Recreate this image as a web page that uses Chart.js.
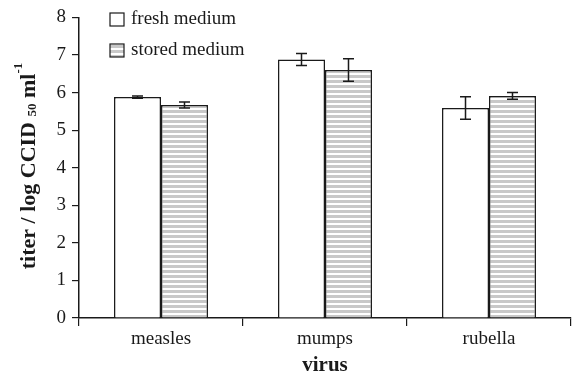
<!DOCTYPE html>
<html lang="en">
<head>
<meta charset="UTF-8" />
<title>Titer by virus</title>
<script src="https://cdn.jsdelivr.net/npm/chart.js@4"></script>
<style>
  html, body { margin: 0; padding: 0; background: #fff; }
</style>
</head>
<body>
<canvas id="grafico" width="575" height="383"></canvas>
<script>
  // values
  var viruses = ["measles", "mumps", "rubella"];
  var fresh = [5.88, 6.88, 5.59];
  var freshErr = [0.03, 0.16, 0.3];
  var stored = [5.67, 6.6, 5.91];
  var storedErr = [0.08, 0.3, 0.09];
  var legendNames = ["fresh medium", "stored medium"];

  var serif = "'Liberation Serif', 'Times New Roman', serif";
  var ink = "#1a1a1a";

  // grey horizontal stripes for the stored medium bars
  function stripes() {
    var c = document.createElement("canvas");
    c.width = 4;
    c.height = 5;
    var g = c.getContext("2d");
    g.fillStyle = "#ffffff";
    g.fillRect(0, 0, 4, 5);
    g.fillStyle = "#c8c8c8";
    g.fillRect(0, 0, 4, 3);
    return g.createPattern(c, "repeat");
  }
  var striped = stripes();

  var errores = [freshErr, storedErr];

  var errorBars = {
    id: "errorBars",
    afterDatasetsDraw: function (chart) {
      var ctx = chart.ctx;
      var y = chart.scales.y;
      ctx.save();
      ctx.strokeStyle = ink;
      ctx.lineWidth = 1.5;
      chart.data.datasets.forEach(function (ds, i) {
        var meta = chart.getDatasetMeta(i);
        meta.data.forEach(function (bar, j) {
          var v = ds.data[j];
          var e = errores[i][j];
          var top = y.getPixelForValue(v + e);
          var bot = y.getPixelForValue(v - e);
          ctx.beginPath();
          ctx.moveTo(bar.x, top);
          ctx.lineTo(bar.x, bot);
          ctx.moveTo(bar.x - 5.5, top);
          ctx.lineTo(bar.x + 5.5, top);
          ctx.moveTo(bar.x - 5.5, bot);
          ctx.lineTo(bar.x + 5.5, bot);
          ctx.stroke();
        });
      });
      ctx.restore();
    }
  };

  // legend inside the plot, top left
  var legendaInterna = {
    id: "legendaInterna",
    afterDraw: function (chart) {
      var ctx = chart.ctx;
      var fills = ["#ffffff", striped];
      ctx.save();
      ctx.font = "19px " + serif;
      ctx.textBaseline = "middle";
      legendNames.forEach(function (nome, i) {
        var by = 13 + i * 31;
        ctx.fillStyle = fills[i];
        ctx.fillRect(110, by, 14, 13);
        ctx.strokeStyle = ink;
        ctx.lineWidth = 1.2;
        ctx.strokeRect(110, by, 14, 13);
        ctx.fillStyle = ink;
        ctx.fillText(nome, 131, by + 6.5);
      });
      ctx.restore();
    }
  };

  // y title with subscript 50 and superscript -1
  var tituloY = {
    id: "tituloY",
    afterDraw: function (chart) {
      var ctx = chart.ctx;
      var big = "bold 22px " + serif;
      var small = "bold 13px " + serif;
      var parts = [
        { t: "titer / log CCID ", f: big, dy: 0 },
        { t: "50", f: small, dy: 4 },
        { t: " ml", f: big, dy: 0 },
        { t: "-1", f: small, dy: -10 }
      ];
      ctx.save();
      var total = 0;
      parts.forEach(function (p) {
        ctx.font = p.f;
        p.w = ctx.measureText(p.t).width;
        total += p.w;
      });
      ctx.translate(29, 166);
      ctx.rotate(-Math.PI / 2);
      ctx.fillStyle = ink;
      ctx.textBaseline = "middle";
      var x = -total / 2;
      parts.forEach(function (p) {
        ctx.font = p.f;
        ctx.fillText(p.t, x, p.dy);
        x += p.w;
      });
      ctx.restore();
    }
  };

  var config = {
    type: "bar",
    data: {
      labels: viruses,
      datasets: [
        {
          label: legendNames[0],
          data: fresh,
          backgroundColor: "#ffffff",
          borderColor: ink,
          borderWidth: 1.5
        },
        {
          label: legendNames[1],
          data: stored,
          backgroundColor: striped,
          borderColor: ink,
          borderWidth: 1.5
        }
      ]
    },
    options: {
      responsive: false,
      animation: false,
      categoryPercentage: 0.573,
      barPercentage: 1,
      layout: { padding: { top: 14, right: 4, left: 0, bottom: 0 } },
      plugins: {
        legend: { display: false },
        tooltip: { enabled: false }
      },
      scales: {
        x: {
          afterFit: function (s) { s.height = 65; },
          grid: { drawOnChartArea: false, tickLength: 8, color: ink, lineWidth: 1.2 },
          border: { color: ink, width: 1.5 },
          ticks: { color: ink, font: { family: serif, size: 19 }, padding: 2 },
          title: {
            display: true,
            text: "virus",
            color: ink,
            font: { family: serif, size: 21, weight: "bold" },
            padding: { top: 0, bottom: 5 }
          }
        },
        y: {
          min: 0,
          max: 8,
          afterFit: function (s) { s.width = 79; },
          grid: { drawOnChartArea: false, tickLength: 7, color: ink, lineWidth: 1.2 },
          border: { color: ink, width: 1.5 },
          ticks: { stepSize: 1, color: ink, font: { family: serif, size: 19 }, padding: 6 }
        }
      }
    },
    plugins: [errorBars, legendaInterna, tituloY]
  };

  var grafico = new Chart(document.getElementById("grafico"), config);
</script>
</body>
</html>
